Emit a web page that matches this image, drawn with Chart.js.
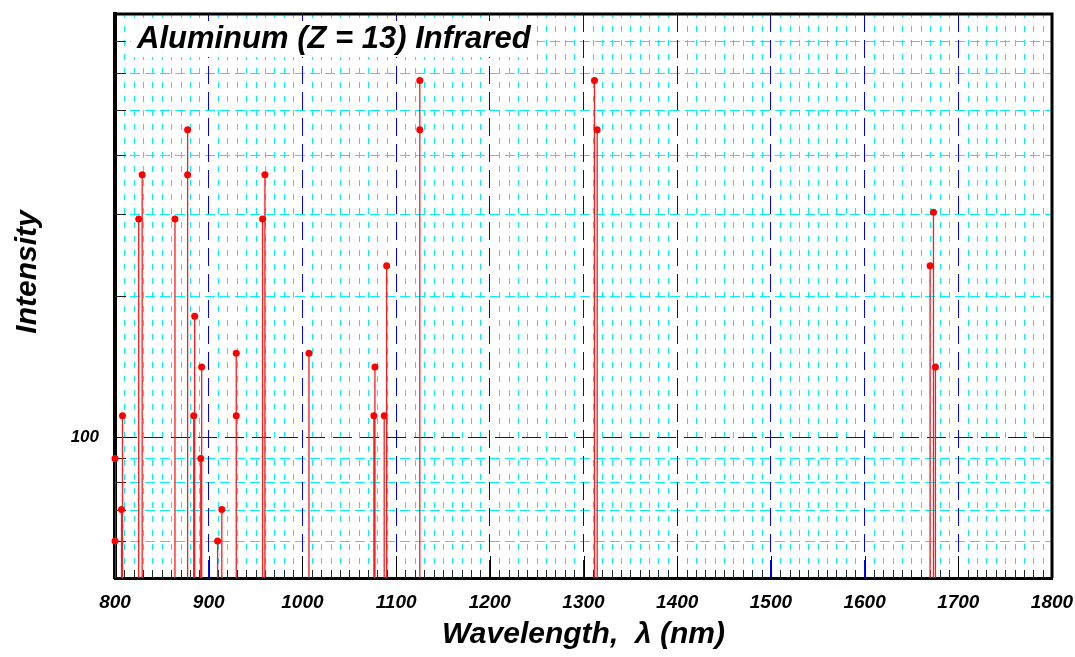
<!DOCTYPE html>
<html><head><meta charset="utf-8">
<script src="https://cdn.jsdelivr.net/npm/chart.js@4.4.1/dist/chart.umd.min.js"></script>
<style>html,body{margin:0;padding:0;background:#fff;} canvas{display:block;}</style>
</head><body>
<canvas id="c" width="1075" height="657"></canvas>
<script>
// ---- data ----
const wavelengths = [800, 800, 807, 808, 825.3, 829, 864, 877.5, 877.5, 884, 885, 891.5, 892.5, 909.5, 914, 929.4, 929.4, 957.5, 960, 1007, 1076.3, 1077.4, 1087.3, 1089.9, 1125.3, 1125.3, 1311.7, 1314.6, 1669.9, 1673.5, 1675.6];
const intensities = [90, 60, 70, 111, 292, 363, 292, 453, 363, 111, 181, 90, 141, 60, 70, 151, 111, 292, 363, 151, 111, 141, 111, 232, 577, 453, 577, 453, 232, 302, 141];
const xTickValues = [800, 900, 1000, 1100, 1200, 1300, 1400, 1500, 1600, 1700, 1800];
const xTickLabels = ['800', '900', '1000', '1100', '1200', '1300', '1400', '1500', '1600', '1700', '1800'];
const yTickValues = [100];
const yTickLabels = ['100'];
const yMinorValues = [60, 70, 80, 90, 200, 300, 400, 500, 600, 700];
const xMinorValues = [];
for (let v = 810; v < 1800; v += 10) { if (v % 100 !== 0) xMinorValues.push(v); }
const chartTitle = 'Aluminum (Z = 13) Infrared';
const xTitle = 'Wavelength,  \u03bb (nm)';
const yTitle = 'Intensity';
const xMin = 800, xMax = 1800, yMin = 50, yMax = 800;

const FONT = "'Liberation Sans', Arial, Helvetica, sans-serif";

// stems: vertical segments from the axis floor to each value, broken by nulls
const stemData = [];
wavelengths.forEach((w, i) => {
  stemData.push({x: w, y: yMin});
  stemData.push({x: w, y: intensities[i]});
  stemData.push({x: w, y: null});
});
const dotData = wavelengths.map((w, i) => ({x: w, y: intensities[i]}));

const zeroPad = (axis) => { axis.paddingTop = 0; axis.paddingBottom = 0; axis.paddingLeft = 0; axis.paddingRight = 0; };

const decor = {
  id: 'decor',
  beforeDraw(chart) {
    const {ctx, chartArea: a, scales: {x, y}} = chart;
    ctx.save();
    ctx.strokeStyle = '#00f0ff';
    ctx.lineWidth = 1;
    ctx.setLineDash([6, 8]);
    xMinorValues.forEach(v => {
      const px = Math.round(x.getPixelForValue(v)) + 0.5;
      ctx.beginPath(); ctx.moveTo(px, a.bottom); ctx.lineTo(px, a.top); ctx.stroke();
    });
    ctx.setLineDash([10, 5]);
    yMinorValues.forEach(v => {
      const py = Math.round(y.getPixelForValue(v)) + 0.5;
      ctx.beginPath(); ctx.moveTo(a.left, py); ctx.lineTo(a.right, py); ctx.stroke();
    });
    ctx.restore();
  },
  beforeDatasetsDraw(chart) {
    const {ctx, chartArea: a, scales: {x, y}} = chart;
    ctx.save();
    ctx.setLineDash([]);
    ctx.lineWidth = 1;
    ctx.strokeStyle = '#113333';
    xMinorValues.forEach(v => {
      const px = Math.round(x.getPixelForValue(v)) + 0.5;
      ctx.beginPath(); ctx.moveTo(px, a.bottom); ctx.lineTo(px, a.bottom - 8); ctx.stroke();
    });
    ctx.strokeStyle = '#000';
    xTickValues.forEach(v => {
      const px = Math.round(x.getPixelForValue(v)) + 0.5;
      ctx.beginPath(); ctx.moveTo(px, a.bottom); ctx.lineTo(px, a.bottom - 22); ctx.stroke();
    });
    ctx.strokeStyle = '#222';
    yMinorValues.forEach(v => {
      const py = Math.round(y.getPixelForValue(v)) + 0.5;
      ctx.beginPath(); ctx.moveTo(a.left, py); ctx.lineTo(a.left + 11, py); ctx.stroke();
    });
    ctx.strokeStyle = '#000';
    yTickValues.forEach(v => {
      const py = Math.round(y.getPixelForValue(v)) + 0.5;
      ctx.beginPath(); ctx.moveTo(a.left, py); ctx.lineTo(a.left + 22, py); ctx.stroke();
    });
    ctx.lineWidth = 3;
    ctx.beginPath();
    ctx.moveTo(a.left, a.top); ctx.lineTo(a.right, a.top); ctx.lineTo(a.right, a.bottom);
    ctx.stroke();
    ctx.font = 'italic bold 31px ' + FONT;
    const tw = ctx.measureText(chartTitle).width;
    const tx = a.left + 22, ty = a.top + 34;
    ctx.fillStyle = '#fff';
    ctx.fillRect(tx - 6, a.top + 7, tw + 12, 36);
    ctx.fillStyle = '#000';
    ctx.textAlign = 'left';
    ctx.textBaseline = 'alphabetic';
    ctx.fillText(chartTitle, tx, ty);
    ctx.restore();
  },
  afterDraw(chart) {
    const {ctx, chartArea: a} = chart;
    ctx.save();
    ctx.font = 'italic bold 30px ' + FONT;
    ctx.fillStyle = '#000';
    ctx.translate(28, (a.top + a.bottom) / 2 - 24);
    ctx.rotate(-Math.PI / 2);
    ctx.textAlign = 'center';
    ctx.textBaseline = 'middle';
    ctx.fillText(yTitle, 0, 0);
    ctx.restore();
  }
};

new Chart(document.getElementById('c'), {
  type: 'line',
  data: {
    datasets: [
      {
        label: 'stems',
        data: stemData,
        borderColor: '#ff1a1a',
        borderWidth: 1.3,
        pointRadius: 0,
        spanGaps: false,
        fill: false,
        order: 2
      },
      {
        label: 'lines',
        data: dotData,
        showLine: false,
        pointRadius: 3.5,
        pointHoverRadius: 3.5,
        pointBackgroundColor: '#ff0000',
        pointBorderColor: '#ff0000',
        pointBorderWidth: 0,
        clip: false,
        order: 1
      }
    ]
  },
  options: {
    responsive: false,
    animation: false,
    devicePixelRatio: 1,
    layout: { padding: { top: 14, right: 23, left: 0, bottom: 0 } },
    plugins: { legend: { display: false }, tooltip: { enabled: false }, title: { display: false } },
    events: [],
    scales: {
      x: {
        type: 'linear',
        position: 'bottom',
        min: xMin, max: xMax,
        afterBuildTicks: (axis) => { axis.ticks = xTickValues.map(v => ({value: v})); },
        afterFit: (axis) => { axis.height = 79; zeroPad(axis); },
        ticks: {
          autoSkip: false, maxRotation: 0, padding: 13, color: '#000',
          font: { family: FONT, size: 19, style: 'italic', weight: 'bold' },
          callback: (v) => xTickLabels[xTickValues.indexOf(v)]
        },
        grid: { color: '#0000ff', lineWidth: 1, drawTicks: false },
        border: { display: true, color: '#000', width: 3, dash: [18, 8] },
        title: {
          display: true, text: xTitle, color: '#000',
          font: { family: FONT, size: 30, style: 'italic', weight: 'bold' },
          padding: { top: 0, bottom: 4 }
        }
      },
      y: {
        type: 'logarithmic',
        position: 'left',
        min: yMin, max: yMax,
        afterBuildTicks: (axis) => { axis.ticks = yTickValues.map(v => ({value: v})); },
        afterFit: (axis) => { axis.width = 115; zeroPad(axis); },
        ticks: {
          padding: 16, color: '#000',
          font: { family: FONT, size: 17, style: 'italic', weight: 'bold' },
          callback: (v) => yTickLabels[yTickValues.indexOf(v)]
        },
        grid: { color: '#0000ff', lineWidth: 1, drawTicks: false },
        border: { display: true, color: '#000', width: 4, dash: [19, 8] }
      }
    }
  },
  plugins: [decor]
});
</script>
</body></html>
